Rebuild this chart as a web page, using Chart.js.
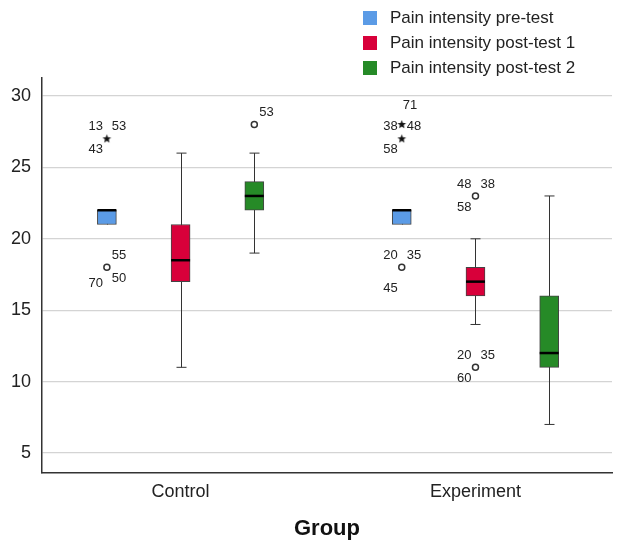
<!DOCTYPE html>
<html>
<head>
<meta charset="utf-8">
<script src="https://cdn.jsdelivr.net/npm/chart.js@4"></script>
<style>
  body { margin: 0; background: #fff; }
  #wrap { position: relative; width: 618px; height: 543px; }
  #legend { position: absolute; left: 363px; top: 5px; font: 17px 'Liberation Sans', Arial, sans-serif; color: #222; }
  #legend .item { display: flex; align-items: center; height: 25px; }
  #legend .sw { width: 14px; height: 14px; margin-right: 13px; }
</style>
</head>
<body>
<div id="wrap">
  <canvas id="myChart" width="618" height="543"></canvas>
  <div id="legend"></div>
</div>
<script>
const groups = ['Control', 'Experiment'];
const seriesNames = ['Pain intensity pre-test', 'Pain intensity post-test 1', 'Pain intensity post-test 2'];
const yTicks = [5, 10, 15, 20, 25, 30];

// one row per series, one value per group
const boxMin    = [[21, 21], [11, 14], [19, 7]];
const boxQ1     = [[21, 21], [17, 16], [22, 11]];
const boxMedian = [[22, 22], [18.5, 17], [23, 12]];
const boxQ3     = [[22, 22], [21, 18], [24, 16]];
const boxMax    = [[22, 22], [26, 20], [26, 23]];

// [series, group, value, extreme?, case labels]
const outliers = [
  [0, 0, 27, true,  ['13', '53', '43']],
  [0, 0, 18, false, ['55', '50', '70']],
  [2, 0, 28, false, ['53']],
  [0, 1, 28, true,  ['71']],
  [0, 1, 27, true,  ['38', '48', '58']],
  [0, 1, 18, false, ['20', '35', '45']],
  [1, 1, 23, false, ['48', '38', '58']],
  [1, 1, 11, false, ['20', '35', '60']]
];

const colors = ['#5b9be6', '#d8003a', '#268a27'];
const offsets = [-0.25, 0, 0.25];
// where each case label sits around its marker: [dx, dy, align]
const slots = {
  ul: [-4, -12, 'right'], ur: [5, -12, 'left'],
  dl: [-4, 11, 'right'], dr: [5, 11, 'left'],
  dl2: [-4, 16, 'right'], dl3: [-4, 21, 'right'], up: [1, -19, 'left']
};
const labelSlots = [
  ['ul', 'ur', 'dl'],
  ['ur', 'dr', 'dl2'],
  ['ur'],
  ['up'],
  ['ul', 'ur', 'dl'],
  ['ul', 'ur', 'dl3'],
  ['ul', 'ur', 'dl'],
  ['ul', 'ur', 'dl']
];

// small filled star for extremes
const star = document.createElement('canvas');
star.width = 11; star.height = 11;
(function () {
  const c = star.getContext('2d');
  c.beginPath();
  for (let i = 0; i < 10; i++) {
    const r = i % 2 ? 2 : 4.6;
    const a = -Math.PI / 2 + i * Math.PI / 5;
    c.lineTo(5.5 + r * Math.cos(a), 5.5 + r * Math.sin(a));
  }
  c.closePath();
  c.fillStyle = '#111';
  c.fill();
})();

const boxDatasets = seriesNames.map((name, si) => ({
  type: 'bar',
  label: name,
  data: groups.map((g, gi) => ({ x: gi + offsets[si], y: [boxQ1[si][gi], boxQ3[si][gi]] })),
  backgroundColor: colors[si],
  borderColor: '#444',
  borderWidth: 1,
  borderSkipped: false,
  grouped: false,
  barThickness: 19
}));

const circlePts = outliers.filter(o => !o[3]).map(o => ({ x: o[1] + offsets[o[0]], y: o[2] }));
const starPts = outliers.filter(o => o[3]).map(o => ({ x: o[1] + offsets[o[0]], y: o[2] }));

const boxParts = {
  id: 'boxParts',
  beforeDatasetsDraw(chart) {
    const ctx = chart.ctx, y = chart.scales.y;
    ctx.save();
    ctx.strokeStyle = '#333';
    ctx.lineWidth = 1;
    seriesNames.forEach((n, si) => {
      chart.getDatasetMeta(si).data.forEach((el, gi) => {
        const x = Math.round(el.x) + 0.5;
        const lo = y.getPixelForValue(boxMin[si][gi]);
        const hi = y.getPixelForValue(boxMax[si][gi]);
        ctx.beginPath();
        ctx.moveTo(x, lo); ctx.lineTo(x, hi);
        if (boxMin[si][gi] < boxQ1[si][gi]) { ctx.moveTo(x - 5, lo); ctx.lineTo(x + 5, lo); }
        if (boxMax[si][gi] > boxQ3[si][gi]) { ctx.moveTo(x - 5, hi); ctx.lineTo(x + 5, hi); }
        ctx.stroke();
      });
    });
    ctx.restore();
  },
  afterDatasetsDraw(chart) {
    const ctx = chart.ctx, y = chart.scales.y, x = chart.scales.x;
    ctx.save();
    ctx.strokeStyle = '#000';
    ctx.lineWidth = 2.5;
    seriesNames.forEach((n, si) => {
      chart.getDatasetMeta(si).data.forEach((el, gi) => {
        const m = y.getPixelForValue(boxMedian[si][gi]);
        ctx.beginPath();
        ctx.moveTo(el.x - el.width / 2, m); ctx.lineTo(el.x + el.width / 2, m);
        ctx.stroke();
      });
    });
    ctx.font = '13px "Liberation Sans", Arial, sans-serif';
    ctx.fillStyle = '#222';
    ctx.textBaseline = 'middle';
    outliers.forEach((o, k) => {
      const px = x.getPixelForValue(o[1] + offsets[o[0]]);
      const py = y.getPixelForValue(o[2]);
      o[4].forEach((lab, j) => {
        const s = slots[labelSlots[k][j]];
        ctx.textAlign = s[2];
        ctx.fillText(lab, px + s[0], py + s[1]);
      });
    });
    ctx.restore();
  }
};

const chart = new Chart(document.getElementById('myChart'), {
  type: 'bar',
  data: {
    datasets: [
      ...boxDatasets,
      { type: 'scatter', label: 'outliers', data: circlePts, pointStyle: 'circle', pointRadius: 3,
        borderColor: '#333', backgroundColor: '#fff', borderWidth: 1.5 },
      { type: 'scatter', label: 'extremes', data: starPts, pointStyle: star, pointRadius: 5 }
    ]
  },
  options: {
    responsive: false,
    animation: false,
    layout: { padding: { top: 78, right: 4, left: 0, bottom: 0 } },
    plugins: { legend: { display: false }, tooltip: { enabled: false } },
    scales: {
      x: {
        type: 'linear',
        min: -0.47,
        max: 1.463,
        offset: false,
        afterBuildTicks: s => { s.ticks = groups.map((g, i) => ({ value: i })); },
        afterFit: s => { s.height = 70; },
        grid: { display: false, drawTicks: false },
        border: { color: '#333', width: 1.5 },
        ticks: { callback: v => groups[v], font: { family: 'Liberation Sans', size: 18 }, color: '#222', padding: 8, maxRotation: 0 },
        title: { display: true, text: 'Group', font: { family: 'Liberation Sans', size: 22, weight: 'bold' }, color: '#111', padding: { top: 0, bottom: 1 } }
      },
      y: {
        min: 3.6,
        max: 31.26,
        afterBuildTicks: s => { s.ticks = yTicks.map(v => ({ value: v })); },
        afterFit: s => { s.width = 42; },
        grid: { color: '#d4d4d4', lineWidth: 1.3, drawTicks: false },
        border: { color: '#333', width: 1.5 },
        ticks: { font: { family: 'Liberation Sans', size: 18 }, color: '#222', padding: 11 }
      }
    }
  },
  plugins: [boxParts]
});

const legend = document.getElementById('legend');
boxDatasets.forEach(ds => {
  const item = document.createElement('div');
  item.className = 'item';
  const sw = document.createElement('span');
  sw.className = 'sw';
  sw.style.background = ds.backgroundColor;
  const tx = document.createElement('span');
  tx.textContent = ds.label;
  item.appendChild(sw);
  item.appendChild(tx);
  legend.appendChild(item);
});
</script>
</body>
</html>
